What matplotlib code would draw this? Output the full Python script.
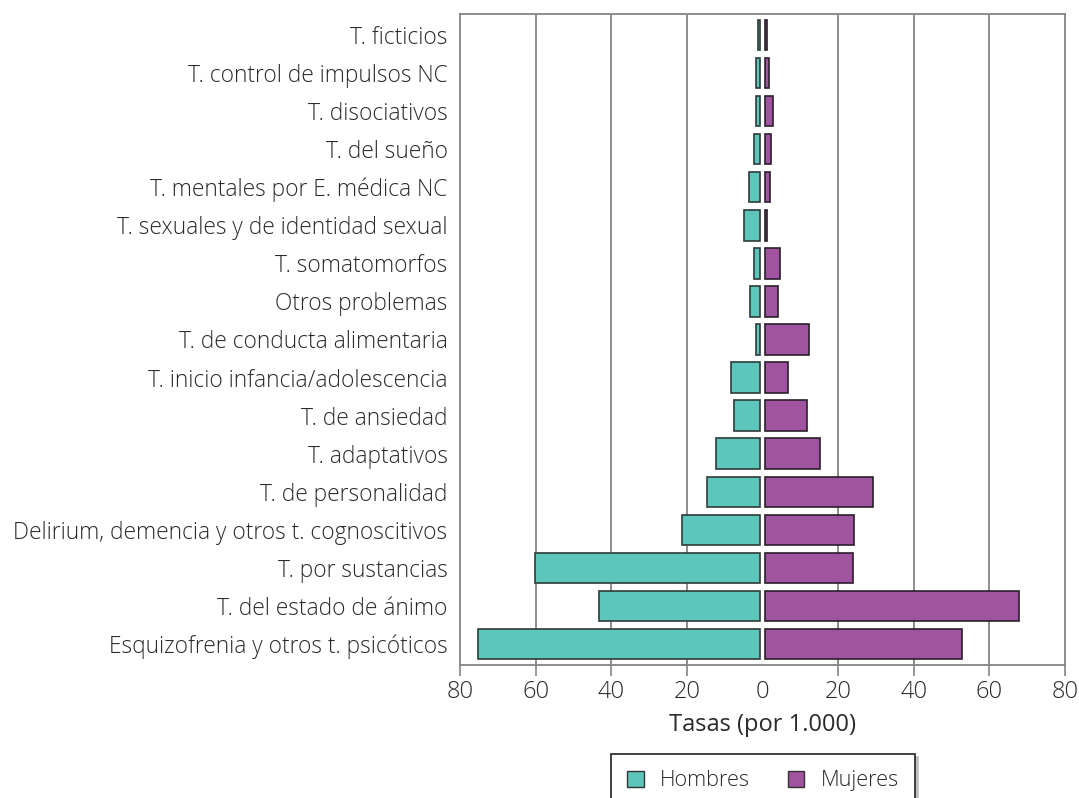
import matplotlib
matplotlib.use('Agg')
import matplotlib.pyplot as plt
import numpy as np
from matplotlib.patches import Patch

# data (tasas por 1.000), top to bottom
categorias = [
    'T. ficticios',
    'T. control de impulsos NC',
    'T. disociativos',
    'T. del sueño',
    'T. mentales por E. médica NC',
    'T. sexuales y de identidad sexual',
    'T. somatomorfos',
    'Otros problemas',
    'T. de conducta alimentaria',
    'T. inicio infancia/adolescencia',
    'T. de ansiedad',
    'T. adaptativos',
    'T. de personalidad',
    'Delirium, demencia y otros t. cognoscitivos',
    'T. por sustancias',
    'T. del estado de ánimo',
    'Esquizofrenia y otros t. psicóticos',
]
hombres = [0.7, 1.3, 1.3, 1.8, 3.0, 4.3, 1.8, 2.8, 1.2, 7.7, 7.1, 11.7, 14.2, 20.7, 59.7, 42.6, 74.7]
mujeres = [0.6, 1.2, 2.1, 1.8, 1.5, 0.6, 4.2, 3.6, 11.7, 6.2, 11.2, 14.7, 28.7, 23.7, 23.3, 67.3, 52.1]
ticks = [-80, -60, -40, -20, 0, 20, 40, 60, 80]

plt.rcParams['font.family'] = ['Open Sans', 'DejaVu Sans']
plt.rcParams['font.weight'] = 'light'

c_h = '#5cc5bc'
c_m = '#a0539e'
grid_c = '#858585'
txt_c = '#2a2a2a'
gap = 0.55

fig = plt.figure(figsize=(10.79, 7.98), dpi=100)
ax = fig.add_axes([460 / 1079, 1 - 665 / 798, 605 / 1079, 651 / 798])

y = np.arange(len(categorias))
ax.barh(y, [-v for v in hombres], left=-gap, height=0.8, color=c_h,
        edgecolor='#2e3b3a', linewidth=1.2, zorder=3)
ax.barh(y, mujeres, left=gap, height=0.8, color=c_m,
        edgecolor='#2a1f2a', linewidth=1.2, zorder=3)

ax.set_xlim(-80, 80)
ax.set_ylim(len(categorias) - 0.45, -0.55)
ax.set_xticks(ticks)
ax.set_xticklabels([str(abs(t)) for t in ticks], fontsize=17, color=txt_c)
ax.set_yticks(y)
ax.set_yticklabels(categorias, fontsize=16.4, color=txt_c)
ax.tick_params(axis='y', length=0, pad=9)
ax.tick_params(axis='x', length=8, width=1.2, color=grid_c, pad=3)
# no tick mark at zero
ax.get_xticklines()[8].set_visible(False)

for t in ticks[1:-1]:
    if t != 0:
        ax.axvline(t, color=grid_c, lw=1.3, zorder=1)
for s in ax.spines.values():
    s.set_color(grid_c)
    s.set_linewidth(1.3)

ax.set_xlabel('Tasas (por 1.000)', fontsize=17, fontweight='normal', color=txt_c, labelpad=6)

handles = [Patch(facecolor=c_h, edgecolor='#333333', label='Hombres'),
           Patch(facecolor=c_m, edgecolor='#333333', label='Mujeres')]
leg = fig.legend(handles=handles, loc='upper center', ncol=2,
                 bbox_to_anchor=(763 / 1079, 1 - 754 / 798),
                 borderaxespad=0, fontsize=15.6, frameon=True, fancybox=False,
                 shadow={'color': '0.75', 'alpha': 1},
                 handlelength=0.75, handleheight=0.75, columnspacing=1.75,
                 borderpad=0.75, handletextpad=0.75)
leg.get_frame().set_edgecolor('#222222')
leg.get_frame().set_linewidth(1.2)
for t in leg.get_texts():
    t.set_color(txt_c)

fig.savefig('out.png', dpi=100)
